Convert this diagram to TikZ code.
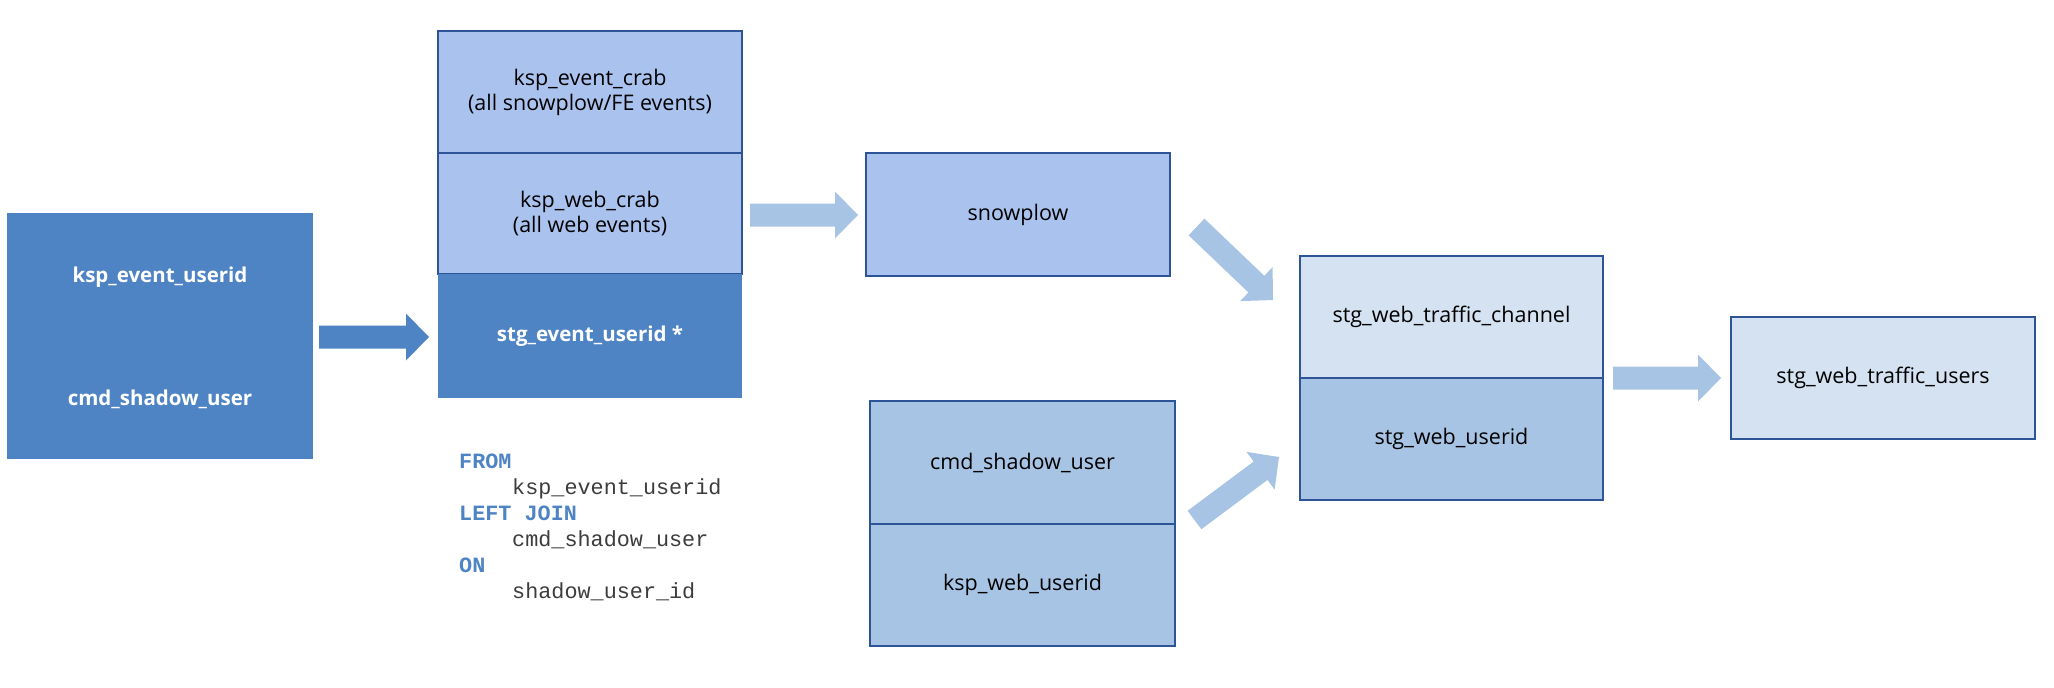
\documentclass[tikz,border=0pt]{standalone}
\usepackage{fontspec}
\setmainfont{Open Sans}
\setmonofont{Liberation Mono}
\usetikzlibrary{calc}
\definecolor{dkfill}{RGB}{79,132,196}
\definecolor{peri}{RGB}{170,194,238}
\definecolor{ltblue}{RGB}{167,196,228}
\definecolor{pale}{RGB}{213,226,241}
\definecolor{edge}{RGB}{44,84,150}
\definecolor{sqltxt}{RGB}{60,60,60}
\newcommand\fatarrow[3]{%
  \coordinate (fa-h) at ($(#3)!23pt!(#2)$);
  \fill[#1] ($(#2)!11.5pt!90:(#3)$) -- ($(fa-h)!11.5pt!90:(#3)$) -- ($(fa-h)!23.5pt!90:(#3)$)
    -- (#3) -- ($(fa-h)!23.5pt!-90:(#3)$) -- ($(fa-h)!11.5pt!-90:(#3)$) -- ($(#2)!11.5pt!-90:(#3)$) -- cycle;}
\begin{document}
\begin{tikzpicture}[x=1pt,y=-1pt,
  cell/.style={rectangle, inner sep=0pt, outer sep=0pt, minimum width=304pt, minimum height=122pt,
    draw=edge, line width=2pt, font=\fontsize{21.5}{25}\selectfont, align=center, text=black},
  darkcell/.style={cell, draw=none, fill=dkfill, text=white, font=\fontsize{20.5}{25}\selectfont\bfseries},
  wlabel/.style={text=white, font=\fontsize{20.5}{25}\selectfont\bfseries},
  kw/.style={anchor=base west, inner sep=0pt, text=dkfill, font=\fontsize{21.8}{26}\selectfont\ttfamily\bfseries},
  code/.style={anchor=base west, inner sep=0pt, text=sqltxt, font=\fontsize{21.8}{26}\selectfont\ttfamily}]
\useasboundingbox (0,0) rectangle (2054,688);
% left box
\node[darkcell, minimum width=306pt, minimum height=246pt] (L) at (160,336) {};
\node[wlabel] (Lt1) at (160,277) {ksp\_event\_userid};
\node[wlabel] (Lt2) at (160,399) {cmd\_shadow\_user};
% middle stack
\node[cell, fill=peri] (M1) at (590,92) {ksp\_event\_crab\\(all snowplow/FE events)};
\node[cell, fill=peri, minimum height=121pt] (M2) at (590,213.5) {ksp\_web\_crab\\(all web events)};
\node[darkcell, minimum height=124pt] (M3) at (590,336) {stg\_event\_userid *};
% snowplow
\node[cell, fill=peri, minimum height=123pt] (SP) at (1018,214.5) {snowplow};
% cmd shadow stack
\node[cell, fill=ltblue, minimum width=305pt, minimum height=123pt] (C1) at (1022.5,462.5) {cmd\_shadow\_user};
\node[cell, fill=ltblue, minimum width=305pt] (C2) at (1022.5,585) {ksp\_web\_userid};
% stg web stack
\node[cell, fill=pale, minimum width=303pt] (W1) at (1451.5,317) {stg\_web\_traffic\_channel};
\node[cell, fill=ltblue, minimum width=303pt] (W2) at (1451.5,439) {stg\_web\_userid};
% users
\node[cell, fill=pale] (U) at (1883,378) {stg\_web\_traffic\_users};
% SQL
\node[kw] (q1) at (459,468) {FROM};
\node[code] (q2) at (512,494) {ksp\_event\_userid};
\node[kw] (q3) at (459,520) {LEFT JOIN};
\node[code] (q4) at (512,546) {cmd\_shadow\_user};
\node[kw] (q5) at (459,572) {ON};
\node[code] (q6) at (512,598) {shadow\_user\_id};
% arrows
\coordinate (a1s) at ($(L.east)+(6,1)$);
\coordinate (a1t) at ($(M3.west)+(-9,1)$);
\coordinate (a2s) at ($(M2.east)+(8,1.5)$);
\coordinate (a2t) at ($(SP.west)+(-8,0.5)$);
\coordinate (a3s) at (1196.5,227);
\coordinate (a3t) at (1273,300);
\coordinate (a4s) at (1194.5,520);
\coordinate (a4t) at (1279,457);
\coordinate (a5s) at ($(W1.south east)+(10,0)$);
\coordinate (a5t) at ($(U.west)+(-10,0)$);
\fatarrow{dkfill}{a1s}{a1t}
\fatarrow{ltblue}{a2s}{a2t}
\fatarrow{ltblue}{a3s}{a3t}
\fatarrow{ltblue}{a4s}{a4t}
\fatarrow{ltblue}{a5s}{a5t}
\end{tikzpicture}
\end{document}
